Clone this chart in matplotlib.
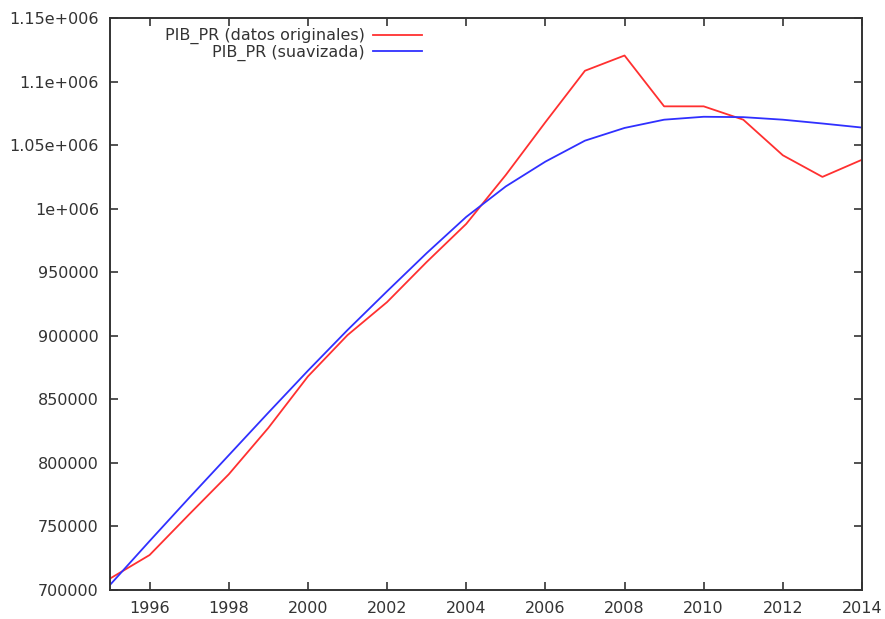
import matplotlib
matplotlib.use("Agg")
import matplotlib.pyplot as plt

plt.rcParams["font.family"] = ["DejaVu Sans"]

years = list(range(1995, 2015))
pib_original = [709000, 727500, 759500, 791000, 827500, 868000, 900500, 926500,
                958000, 988000, 1026500, 1068000, 1108500, 1120500, 1080500,
                1080500, 1070000, 1042000, 1025000, 1038500]
pib_suavizada = [704000, 738500, 772500, 806000, 839500, 872500, 904500, 935000,
                 965000, 993500, 1017500, 1037000, 1053500, 1063500, 1070000,
                 1072300, 1072000, 1070000, 1067000, 1063800]

ytick_vals = [700000, 750000, 800000, 850000, 900000, 950000, 1000000,
              1050000, 1100000, 1150000]
ytick_labels = ["700000", "750000", "800000", "850000", "900000", "950000",
                "1e+006", "1.05e+006", "1.1e+006", "1.15e+006"]
xtick_vals = list(range(1996, 2015, 2))

fig = plt.figure(figsize=(8.85, 6.19), dpi=100)
ax = fig.add_axes([110/885, 29/619, 752/885, 572/619])

ax.plot(years, pib_original, color="#ff3030", lw=1.3, label="PIB_PR (datos originales)")
ax.plot(years, pib_suavizada, color="#3030ff", lw=1.3, label="PIB_PR (suavizada)")

ax.set_xlim(1995, 2014)
ax.set_ylim(700000, 1150000)
ax.set_xticks(xtick_vals)
ax.set_yticks(ytick_vals)
ax.set_yticklabels(ytick_labels)

txtcol = "#333333"
fs = 11.5
for s in ax.spines.values():
    s.set_color("#333333")
    s.set_linewidth(1.4)
ax.tick_params(direction="in", length=6, width=1.2, color="#333333",
               top=True, right=True, labelsize=fs, labelcolor=txtcol, pad=8)

leg = ax.legend(loc="upper right", bbox_to_anchor=(0.428, 0.999), markerfirst=False,
                frameon=False, fontsize=fs, handlelength=3.1, handletextpad=0.5,
                labelspacing=0.0, borderaxespad=0.2)
for t in leg.get_texts():
    t.set_color(txtcol)

fig.savefig("out.png", dpi=100)
